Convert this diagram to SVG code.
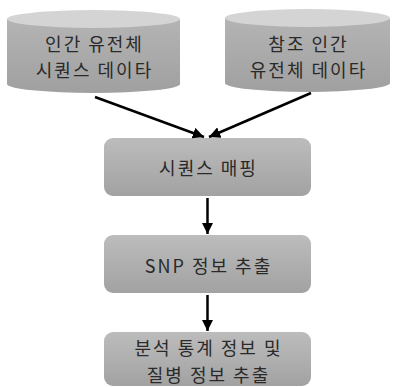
<svg xmlns="http://www.w3.org/2000/svg" width="394" height="387" viewBox="0 0 394 387">
<defs>
<linearGradient id="cylBody" x1="0" y1="0" x2="0" y2="1">
<stop offset="0" stop-color="#b4b4b4"/>
<stop offset="1" stop-color="#a0a0a0"/>
</linearGradient>
<linearGradient id="boxFill" x1="0" y1="0" x2="0" y2="1">
<stop offset="0" stop-color="#bcbcbc"/>
<stop offset="1" stop-color="#a2a2a2"/>
</linearGradient>
<marker id="ah" viewBox="0 0 10 10" refX="10" refY="5" markerWidth="4.5" markerHeight="4.5" orient="auto" markerUnits="strokeWidth">
<path d="M0,0 L10,5 L0,10 z" fill="#000"/>
</marker>
<style>
.lbl{font-family:"Noto Sans CJK KR","Noto Sans",sans-serif;font-size:18px;letter-spacing:2px;fill:#2a2a2a;text-anchor:middle;dominant-baseline:central}
.top{fill:#d4d4d4}
.body{fill:url(#cylBody)}
.box{fill:url(#boxFill)}
.conn{stroke:#000;stroke-width:2.5;fill:none;marker-end:url(#ah)}
</style>
</defs>
<g id="cyl1">
<path class="body" d="M7,19 L7,84 A86.5,9 0 0 0 180,84 L180,19 z"/>
<ellipse class="top" cx="93.5" cy="19" rx="86.5" ry="9"/>
<text class="lbl" x="94.5" y="42.5">인간 유전체</text>
<text class="lbl" x="94.5" y="69">시퀀스 데이타</text>
</g>
<g id="cyl2">
<path class="body" d="M225,18 L225,83 A82.5,9 0 0 0 390,83 L390,18 z"/>
<ellipse class="top" cx="307.5" cy="18" rx="82.5" ry="9"/>
<text class="lbl" x="308.5" y="42.5">참조 인간</text>
<text class="lbl" x="308.5" y="69">유전체 데이타</text>
</g>
<g id="box1">
<rect class="box" x="104" y="138" width="207" height="58" rx="9"/>
<text class="lbl" x="208.5" y="167">시퀀스 매핑</text>
</g>
<g id="box2">
<rect class="box" x="104" y="235" width="207" height="58" rx="9"/>
<text class="lbl" x="208.5" y="265">SNP 정보 추출</text>
</g>
<g id="box3">
<rect class="box" x="104" y="332" width="207" height="54" rx="9"/>
<text class="lbl" x="208.5" y="347">분석 통계 정보 및</text>
<text class="lbl" x="208.5" y="373.5">질병 정보 추출</text>
</g>
<g id="connectors">
<line class="conn" x1="95" y1="97" x2="204" y2="137"/>
<line class="conn" x1="311" y1="93" x2="209" y2="137"/>
<line class="conn" x1="207.5" y1="198" x2="207.5" y2="234"/>
<line class="conn" x1="207.5" y1="295" x2="207.5" y2="331"/>
</g>
</svg>
